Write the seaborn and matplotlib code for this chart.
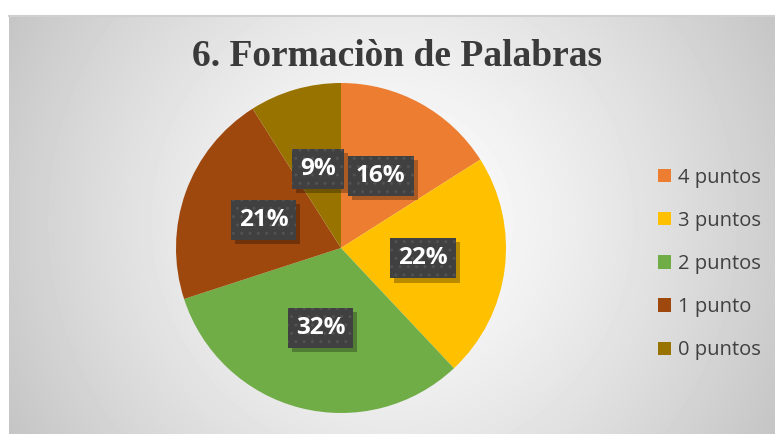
import numpy as np
import seaborn as sns
import matplotlib.pyplot as plt
import matplotlib.patheffects as pe
from matplotlib.patches import Patch

# Data
labels = ['4 puntos', '3 puntos', '2 puntos', '1 punto', '0 puntos']
shares = [16, 22, 32, 21, 9]
colors = ['#ED7D31', '#FFC000', '#70AD47', '#9E480E', '#997300']
title = '6. Formaciòn de Palabras'


class FlatShadow(pe.SimplePatchShadow):
    # shadow of the label box, drawn without the dotted hatch
    def draw_path(self, renderer, gc, tpath, affine, rgbFace):
        gc0 = renderer.new_gc()
        gc0.copy_properties(gc)
        gc0.set_hatch(None)
        super().draw_path(renderer, gc0, tpath, affine, rgbFace)
        gc0.restore()


sns.set_theme(style='white')
plt.rcParams['font.family'] = ['Open Sans', 'DejaVu Sans']
palette = sns.color_palette(colors)

fig = plt.figure(figsize=(7.75, 4.34), dpi=100)
fig.patch.set_facecolor('white')

# radial grey gradient background of the chart area
bg = fig.add_axes([9 / 775, 0, 766 / 775, 418 / 434])
yy, xx = np.mgrid[0:418, 0:766]
dist = np.hypot(xx - 383, yy - 205) / np.hypot(383, 213)
shade = 1.0 - 0.23 * dist ** 1.3
bg.imshow(shade, cmap='gray', vmin=0, vmax=1, aspect='auto',
          extent=(0, 1, 0, 1))
bg.set_xticks([])
bg.set_yticks([])
for s in bg.spines.values():
    s.set_visible(False)
bg.spines['top'].set_visible(True)
bg.spines['top'].set_color('#d0d0d0')
bg.spines['top'].set_linewidth(1.5)

ax = fig.add_axes([176 / 775, 21 / 434, 330 / 775, 330 / 434])
wedges, _, autotexts = ax.pie(shares, colors=palette, startangle=90,
                              counterclock=False, autopct='%1.0f%%',
                              pctdistance=0.5,
                              wedgeprops=dict(linewidth=0),
                              textprops=dict(color='white', fontsize=17.5,
                                             fontweight='bold', zorder=5))
ax.set_xlim(-1, 1)
ax.set_ylim(-1, 1)
ax.set_aspect('equal')

for t in autotexts:
    t.set_bbox(dict(boxstyle='square,pad=0.33', facecolor='#404040',
                    edgecolor='#525252', linewidth=0, hatch='..'))
    t.get_bbox_patch().set_path_effects(
        [FlatShadow(offset=(3, -3), shadow_rgbFace='black', alpha=0.28),
         pe.Normal()])

fig.text(397 / 775, 1 - 57 / 434, title, ha='center', va='center',
         fontsize=27, fontweight='bold', family='Liberation Serif',
         color='#3a3a3a')

handles = [Patch(facecolor=c, edgecolor='none') for c in colors]
fig.legend(handles, labels, loc='center left',
           bbox_to_anchor=(640 / 775, 1 - 264 / 434), frameon=False,
           fontsize=14.5, labelcolor='#404040', handlelength=0.65,
           handleheight=0.65, handletextpad=0.35, labelspacing=1.15)

fig.savefig('out.png', dpi=100)
